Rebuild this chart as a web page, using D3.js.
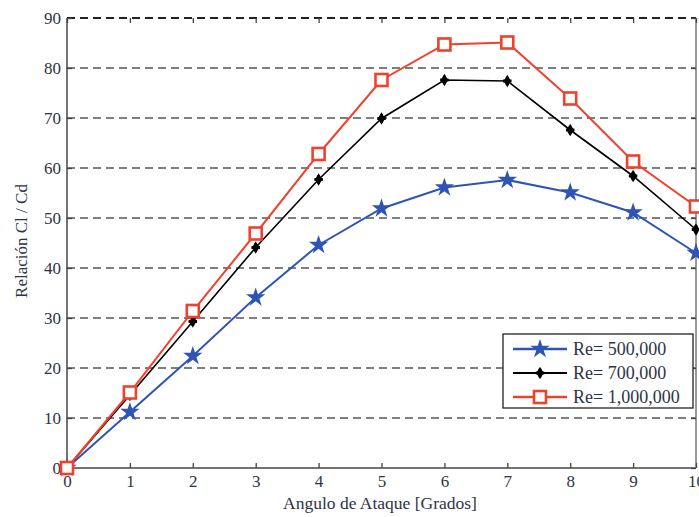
<!DOCTYPE html>
<html>
<head>
<meta charset="utf-8">
<script src="https://cdn.jsdelivr.net/npm/d3@7"></script>
<style>
  body { margin: 0; background: #fff; }
  text { font-family: "Liberation Serif", "DejaVu Serif", serif; fill: #2e3445; }
</style>
</head>
<body>
<svg id="chart" width="699" height="517"></svg>
<script>
// angles (x axis)
var angles = [0, 1, 2, 3, 4, 5, 6, 7, 8, 9, 10];
var yTicks = [0, 10, 20, 30, 40, 50, 60, 70, 80, 90];

// Cl/Cd per Reynolds number
var re500 = [0, 11.2, 22.4, 34.1, 44.6, 51.9, 56.1, 57.6, 55.1, 51.1, 43.0];
var re700 = [0, 14.6, 29.3, 44.1, 57.7, 69.9, 77.6, 77.4, 67.6, 58.4, 47.7];
var re1000 = [0, 15.1, 31.4, 46.9, 62.8, 77.6, 84.7, 85.1, 73.9, 61.3, 52.3];

var seriesNames = ["Re= 500,000", "Re= 700,000", "Re= 1,000,000"];

var svg = d3.select("#chart");
var mLeft = 67, mRight = 696, mTop = 18, mBottom = 468;

var x = d3.scaleLinear().domain([0, 10]).range([mLeft, mRight]);
var y = d3.scaleLinear().domain([0, 90]).range([mBottom, mTop]);

var series = [
    {name: seriesNames[0], values: re500, color: "#2f55b4", marker: "star"},
    {name: seriesNames[1], values: re700, color: "#000000", marker: "dot"},
    {name: seriesNames[2], values: re1000, color: "#f0412d", marker: "square"}
];

// grid lines (dashed, horizontal only)
svg.append("g")
    .selectAll("line")
    .data(yTicks.filter(d => d > 0))
    .enter()
    .append("line")
    .attr("x1", mLeft).attr("x2", mRight)
    .attr("y1", d => y(d)).attr("y2", d => y(d))
    .style("stroke", d => d == 90 ? "#222" : "#555")
    .style("stroke-width", d => d == 90 ? 2 : 1.5)
    .style("stroke-dasharray", "8,5");

// frame
svg.append("line").attr("x1", mLeft).attr("x2", mLeft).attr("y1", mTop).attr("y2", mBottom)
    .style("stroke", "#444").style("stroke-width", 1.5);
svg.append("line").attr("x1", mLeft).attr("x2", mRight).attr("y1", mBottom).attr("y2", mBottom)
    .style("stroke", "#444").style("stroke-width", 1.5);
svg.append("line").attr("x1", mRight).attr("x2", mRight).attr("y1", mTop).attr("y2", mBottom)
    .style("stroke", "#777").style("stroke-width", 1.5);

// axes with inward ticks
var xAxis = svg.append("g")
    .attr("transform", "translate(0," + mBottom + ")")
    .call(d3.axisBottom(x).tickValues(angles).tickSizeInner(-5).tickSizeOuter(0).tickPadding(7));
var xAxisTop = svg.append("g")
    .attr("transform", "translate(0," + mTop + ")")
    .call(d3.axisTop(x).tickValues(angles).tickSizeInner(-5).tickSizeOuter(0).tickFormat(""));
var yAxis = svg.append("g")
    .attr("transform", "translate(" + mLeft + ",0)")
    .call(d3.axisLeft(y).tickValues(yTicks).tickSizeInner(-5).tickSizeOuter(0).tickPadding(6));
var yAxisRight = svg.append("g")
    .attr("transform", "translate(" + mRight + ",0)")
    .call(d3.axisRight(y).tickValues(yTicks).tickSizeInner(-5).tickSizeOuter(0).tickFormat(""));

[xAxis, xAxisTop, yAxis, yAxisRight].forEach(function(a) {
    a.select(".domain").remove();
    a.selectAll(".tick line").style("stroke", "#444").style("stroke-width", 1.3);
    a.selectAll("text")
        .style("font-family", "'Liberation Serif', serif")
        .style("font-size", "17px")
        .style("fill", "#2e3445");
});

// axis titles
svg.append("text")
    .attr("x", 380)
    .attr("y", 509)
    .attr("text-anchor", "middle")
    .style("font-size", "17.5px")
    .text("Angulo de Ataque [Grados]");

svg.append("text")
    .attr("transform", "translate(27,241) rotate(-90)")
    .attr("text-anchor", "middle")
    .style("font-size", "17px")
    .text("Relación Cl / Cd");

// markers
var star = d3.symbol().type(d3.symbolStar).size(115);
var dot = d3.symbol().type(d3.symbolDiamond).size(45);

function drawMarker(g, s, cx, cy) {
    if (s.marker == "star") {
        g.append("path").attr("d", star)
            .attr("transform", "translate(" + cx + "," + cy + ")")
            .style("fill", s.color);
    } else if (s.marker == "dot") {
        g.append("path").attr("d", dot)
            .attr("transform", "translate(" + cx + "," + cy + ")")
            .style("fill", s.color);
        g.append("path").attr("d", d3.symbol().type(d3.symbolCross).size(40))
            .attr("transform", "translate(" + cx + "," + cy + ")")
            .style("fill", s.color);
    } else {
        g.append("rect")
            .attr("x", cx - 6).attr("y", cy - 6)
            .attr("width", 12).attr("height", 12)
            .style("fill", "#fff")
            .style("stroke", s.color)
            .style("stroke-width", 2.6);
    }
}

var line = d3.line()
    .x((d, i) => x(angles[i]))
    .y(d => y(d));

series.forEach(function(s) {
    var g = svg.append("g");
    g.append("path")
        .datum(s.values)
        .attr("d", line)
        .style("fill", "none")
        .style("stroke", s.color)
        .style("stroke-width", s.marker == "dot" ? 1.6 : 2);
});
series.forEach(function(s) {
    var g = svg.append("g");
    s.values.forEach(function(v, i) {
        drawMarker(g, s, x(angles[i]), y(v));
    });
});

// legend
var lx = 503, ly = 334;
svg.append("rect")
    .attr("x", lx).attr("y", ly)
    .attr("width", 190).attr("height", 74)
    .style("fill", "#fff")
    .style("stroke", "#222")
    .style("stroke-width", 1.3);

series.forEach(function(s, i) {
    var yy = ly + 15 + i * 24;
    var g = svg.append("g");
    g.append("line")
        .attr("x1", lx + 10).attr("x2", lx + 64)
        .attr("y1", yy).attr("y2", yy)
        .style("stroke", s.color)
        .style("stroke-width", s.marker == "dot" ? 2 : 2.5);
    drawMarker(g, s, lx + 37, yy);
    g.append("text")
        .attr("x", lx + 70)
        .attr("y", yy + 6)
        .style("font-size", "18px")
        .text(s.name);
});
</script>
</body>
</html>
